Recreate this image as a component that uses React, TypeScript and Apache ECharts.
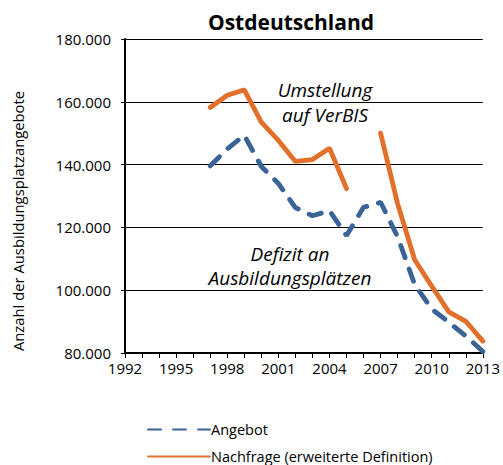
import React, { useEffect, useRef } from "react";
import * as echarts from "echarts";

const years = [1997, 1998, 1999, 2000, 2001, 2002, 2003, 2004, 2005, 2006, 2007, 2008, 2009, 2010, 2011, 2012, 2013];
const angebot = [139600, 145000, 149300, 139400, 134000, 126300, 123700, 125300, 117400, 126400, 128000, 117000, 101800, 94000, 89800, 85400, 80500];
const nachfrage = [158200, 162100, 163800, 153500, 147700, 141000, 141600, 145200, 132400, null, 150000, 127500, 109700, 101300, 93100, 90100, 83800];
const yTicks = [80000, 100000, 120000, 140000, 160000, 180000];
const title = "Ostdeutschland";
const yName = "Anzahl der Ausbildungsplatzangebote";
const seriesNames = ["Angebot", "Nachfrage (erweiterte Definition)"];
const notes = [
  { text: "Umstellung", x: 325, y: 90 },
  { text: "auf VerBIS", x: 325, y: 115 },
  { text: "Defizit an", x: 290, y: 254 },
  { text: "Ausbildungsplätzen", x: 290, y: 278 },
];

const FONT = "'Open Sans', Lato, sans-serif";
const BLUE = "#3A6396";
const ORANGE = "#E2702A";

export default function App() {
  const ref = useRef<HTMLDivElement>(null);
  useEffect(() => {
    if (!ref.current) return;
    const chart = echarts.init(ref.current, undefined, { renderer: "svg" });
    const legendBase = {
      orient: "horizontal",
      left: 147,
      padding: 0,
      itemWidth: 62,
      itemHeight: 14,
      itemGap: 10,
      itemStyle: { opacity: 0 },
      textStyle: { fontFamily: FONT, fontSize: 14.5, color: "#000", padding: [0, 0, 0, -4] },
    };
    chart.setOption({
      animation: false,
      backgroundColor: "#fff",
      title: {
        text: title,
        left: 286,
        top: 6,
        textAlign: "center",
        textStyle: { fontFamily: FONT, fontSize: 21, fontWeight: "bold", color: "#000" },
      },
      grid: { left: 125, right: 19, top: 39, bottom: 112 },
      legend: [
        { ...legendBase, top: 422, data: [seriesNames[0]] },
        { ...legendBase, top: 449, data: [seriesNames[1]] },
      ],
      xAxis: {
        type: "value",
        min: 1992,
        max: 2013,
        interval: 3,
        axisLine: { show: true, lineStyle: { color: "#000", width: 2 } },
        axisTick: { show: true, length: 5, lineStyle: { color: "#000", width: 1 } },
        minorTick: { show: true, splitNumber: 3, length: 5, lineStyle: { color: "#000", width: 1 } },
        splitLine: { show: false },
        axisLabel: { fontFamily: FONT, fontSize: 15, color: "#000", margin: 7, formatter: (v: number) => String(v) },
      },
      yAxis: {
        type: "value",
        min: yTicks[0],
        max: yTicks[yTicks.length - 1],
        interval: 20000,
        axisLine: { show: true, lineStyle: { color: "#000", width: 2 } },
        axisTick: { show: true, length: 4, lineStyle: { color: "#000" } },
        splitLine: { show: true, lineStyle: { color: "#000", width: 1 } },
        axisLabel: {
          fontFamily: FONT,
          fontSize: 15,
          color: "#000",
          margin: 14,
          formatter: (v: number) => (v / 1000).toFixed(3),
        },
      },
      series: [
        {
          name: seriesNames[0],
          type: "line",
          data: years.map((y, i) => [y, angebot[i]]),
          symbol: "none",
          color: BLUE,
          lineStyle: { color: BLUE, width: 4.8, type: [13, 12], cap: "round" },
          z: 3,
        },
        {
          name: seriesNames[1],
          type: "line",
          data: years.map((y, i) => [y, nachfrage[i]]),
          symbol: "none",
          connectNulls: false,
          color: ORANGE,
          lineStyle: { color: ORANGE, width: 4.8, cap: "round" },
          z: 2,
        },
      ],
      graphic: [
        ...notes.map((n) => ({
          type: "text",
          x: n.x,
          y: n.y,
          style: {
            text: n.text,
            font: `italic 19px ${FONT}`,
            fill: "#000",
            textAlign: "center",
            textVerticalAlign: "middle",
          },
        })),
        {
          type: "text",
          x: 18,
          y: 221,
          rotation: Math.PI / 2,
          style: {
            text: yName,
            font: `14.8px ${FONT}`,
            fill: "#000",
            textAlign: "center",
            textVerticalAlign: "middle",
          },
        },
      ],
    });
    return () => chart.dispose();
  }, []);
  return <div ref={ref} style={{ width: 503, height: 465, position: "absolute", left: 0, top: 0 }} />;
}
